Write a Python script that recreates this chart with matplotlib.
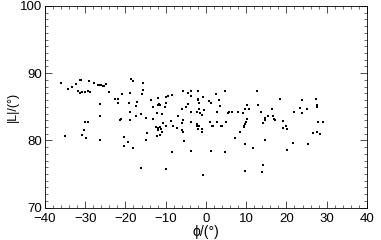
import matplotlib
matplotlib.use("Agg")
import matplotlib.pyplot as plt
from matplotlib.ticker import MultipleLocator

phi = [-36.1, -34.3, -33.4, -32.3, -31.4, -31.1, -31.9, -31.3, -30.9, -30.1, -29.3, -28.8,
       -29.0, -27.8, -26.8, -26.4, -26.0, -25.6, -25.3, -24.9, -24.0, -26.4, -26.4, -30.1,
       -29.3, -22.6, -21.8, -21.8, -20.8, -21.4, -35.1, -30.4, -30.7, -29.7, -26.4, -20.3,
       -20.3, -18.5, -18.1, -15.6, -18.9, -15.7, -15.9, -19.1, -17.1, -17.4, -18.9, -17.4,
       -16.2, -18.9, -14.9, -13.7, -13.1, -11.9, -11.6, -11.3, -12.0, -9.95, -9.4, -8.5,
       -9.8, -10.2, -12.1, -11.0, -13.1, -10.6, -8.8, -8.3, -6.9, -6.0, -5.8, -4.4,
       -3.8, -3.6, -4.4, -5.0, -3.6, -2.2, -1.7, -1.9, -5.8, -6.0, -3.6, -1.9,
       -21.0, -12.3, -11.8, -11.5, -11.2, -12.0, -11.0, -9.8, -14.6, -19.3, -18.2, -14.8,
       -12.1, -11.3, -8.5, -7.3, -6.0, -5.8, -5.5, -3.6, -2.2, -16.2, -9.8, -1.9,
       -1.7, -0.7, 0.7, 1.2, 2.4, 3.2, 3.5, 4.7, -1.5, -1.1, -0.4, 2.8,
       5.4, 5.8, 6.5, 7.9, 9.3, 9.7, 10.7, 10.1, 12.7, 12.9, 13.7, 14.7,
       15.3, 16.5, -2.3, -1.7, 1.0, 1.4, 2.7, 3.9, 5.1, 9.5, 9.7, 9.9,
       10.1, 14.3, 14.7, 17.0, -1.9, -0.9, -0.9, 1.8, 3.7, 9.5, 8.5, 7.2,
       9.7, 11.8, 14.8, 1.2, 4.7, 14.3, 13.9, 9.7, -0.7, 18.4, 23.8, 27.4,
       27.5, 27.7, 21.9, 23.4, 23.8, 25.0, 16.6, 17.1, 19.1, 19.2, 19.9, 20.1,
       27.9, 29.0, 26.5, 27.5, 28.4, 21.7, 25.4, 20.2]
L = [88.6, 87.6, 87.9, 88.4, 89.0, 89.0, 87.3, 87.1, 87.2, 87.2, 87.3, 87.2,
     88.8, 88.5, 88.3, 88.2, 88.2, 88.1, 88.1, 88.4, 87.2, 85.4, 83.7, 82.8,
     82.8, 86.1, 86.1, 85.5, 86.9, 83.1, 80.7, 81.5, 80.8, 80.4, 80.1, 80.5,
     79.2, 89.1, 88.9, 88.6, 87.1, 87.5, 86.9, 85.6, 85.7, 85.1, 84.3, 83.6,
     84.0, 83.1, 83.4, 86.0, 85.0, 86.3, 85.4, 85.2, 85.2, 86.5, 86.6, 86.7,
     85.6, 85.0, 84.1, 84.0, 83.2, 82.6, 82.9, 82.2, 83.7, 84.7, 87.3, 87.0,
     86.6, 87.3, 85.4, 85.0, 84.3, 84.2, 84.7, 86.0, 83.1, 82.6, 82.8, 87.3,
     83.2, 82.0, 81.9, 82.0, 81.7, 81.6, 81.3, 82.2, 81.1, 79.8, 78.9, 80.0,
     80.6, 80.8, 78.3, 81.9, 81.6, 81.3, 79.9, 78.4, 82.1, 75.9, 75.7, 86.1,
     85.6, 86.4, 85.8, 85.5, 86.9, 86.0, 85.1, 87.3, 84.1, 83.8, 84.5, 84.2,
     84.1, 84.2, 84.3, 84.2, 84.1, 84.6, 84.7, 85.3, 87.3, 85.2, 84.2, 83.3,
     83.6, 84.7, 82.5, 82.1, 82.8, 82.2, 82.7, 82.2, 82.7, 82.0, 82.4, 82.8,
     83.2, 82.6, 83.1, 83.2, 81.7, 81.7, 81.2, 82.2, 82.2, 82.2, 81.2, 80.4,
     79.5, 78.9, 80.0, 78.4, 78.3, 76.4, 75.3, 75.5, 74.8, 86.2, 86.0, 86.2,
     85.3, 85.0, 84.2, 84.8, 84.1, 84.7, 83.6, 83.1, 82.9, 81.8, 82.1, 81.7,
     82.8, 82.7, 81.1, 81.2, 81.0, 79.6, 79.4, 78.5]

xticks = [-40, -30, -20, -10, 0, 10, 20, 30, 40]
yticks = [70, 80, 90, 100]

plt.rcParams['font.family'] = ['Liberation Sans', 'DejaVu Sans']
fig = plt.figure(figsize=(3.81, 2.40), dpi=100)
ax = fig.add_axes([0.118, 0.135, 0.845, 0.84])
ax.scatter(phi, L, s=4.5, marker='s', c='black', linewidths=0)
ax.set_xlim(-40, 40)
ax.set_ylim(70, 100)
ax.set_xticks(xticks)
ax.set_yticks(yticks)
ax.set_xticklabels([str(t).replace('-', '\u2212') for t in xticks])
ax.xaxis.set_minor_locator(MultipleLocator(2))
ax.yaxis.set_minor_locator(MultipleLocator(1))
ax.tick_params(which='both', direction='in', top=True, right=True, labelsize=9.5, color='#333333')
ax.tick_params(which='major', length=5, width=0.6)
ax.tick_params(which='minor', length=2.5, width=0.5)
ax.tick_params(axis='x', pad=4)
ax.tick_params(axis='y', pad=2)
for sp in ax.spines.values():
    sp.set_linewidth(0.6)
ax.set_xlabel('ϕ/(°)', fontsize=10, labelpad=0)
ax.set_ylabel('|L|/(°)', fontsize=9, labelpad=1)
fig.savefig('out.png', dpi=100)
